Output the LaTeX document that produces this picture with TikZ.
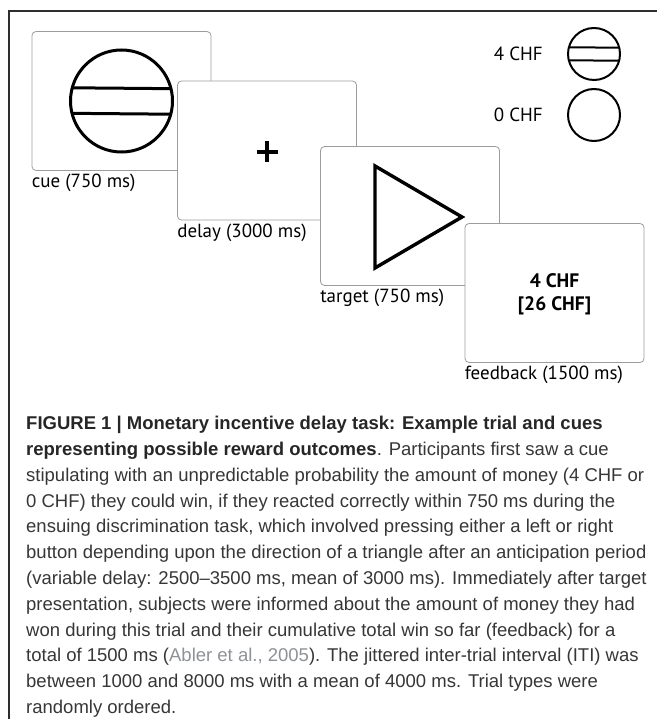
\documentclass[tikz,border=0pt]{standalone}
\usepackage{fontspec}
\setmainfont{Liberation Sans}
\newfontfamily\myriad{PT Sans}
\usetikzlibrary{positioning}
\definecolor{frameInk}{HTML}{2E2E2E}
\definecolor{panelEdge}{HTML}{9C9C9C}
\definecolor{capInk}{HTML}{363636}
\definecolor{citeInk}{HTML}{8E9196}

\begin{document}
\begin{tikzpicture}[x=1pt,y=-1pt,
      panel/.style={draw=panelEdge,fill=white,rounded corners=4pt,line width=0.8pt,
                    minimum width=179pt,minimum height=139pt,inner sep=0pt},
      lbl/.style={font=\myriad\fontsize{19}{22}\selectfont,inner sep=0pt},
      ring/.style={circle,draw=black,outer sep=0pt,inner sep=0pt}]
    \useasboundingbox (0,0) rectangle (657,719);
    \draw[frameInk,line width=1.4pt] (9,719) -- (9,11) -- (657,11);
    \node[panel] (cue)      at (121.5,101)   {};
    \node[panel] (delay)    at (267,150.5)   {};
    \node[panel] (target)   at (410,216)     {};
    \node[panel] (feedback) at (554.5,293)   {};
    \node[lbl,below right=3pt and 0pt of cue.south west]      {cue (750 ms)};
    \node[lbl,below right=3pt and 0pt of delay.south west]    {delay (3000 ms)};
    \node[lbl,below right=3pt and 0pt of target.south west]   {target (750 ms)};
    \node[lbl,below right=3pt and 0pt of feedback.south west] {feedback (1500 ms)};
    \node[ring,line width=3pt,minimum size=102pt] (cueSign) at (cue.center) {};
    \draw[line width=3pt] (cueSign.165.2) -- (cueSign.14.8) (cueSign.194.8) -- (cueSign.345.2);
    \node[minimum size=21pt,inner sep=0pt,outer sep=0pt] (cross) at (267,152) {};
    \draw[line width=3.3pt] (cross.west) -- (cross.east) (cross.north) -- (cross.south);
    \draw[line width=3.4pt,miter limit=20] (375,166) -- (375,268) -- (462,217) -- cycle;
    \node[lbl,font=\myriad\bfseries\fontsize{19.5}{23}\selectfont,align=center] (win) at (554.5,294) {4 CHF\\{[26 CHF]}};
    \node[ring,line width=2pt,minimum size=52pt] (fourSign) at (594,54)  {};
    \draw[line width=2pt] (fourSign.165.5) -- (fourSign.14.5) (fourSign.194.5) -- (fourSign.345.5);
    \node[ring,line width=2pt,minimum size=52pt] (zeroSign) at (594,115) {};
    \node[lbl,left=25pt of fourSign] (four) {4 CHF};
    \node[lbl,left=25pt of zeroSign] (zero) {0 CHF};
    \node[anchor=north west,inner sep=0pt,align=left,text=capInk,
          font=\fontsize{18.5}{25.8}\selectfont] (caption) at (26,416)
      {\textbf{\color{black!85}FIGURE 1 | Monetary incentive delay task: Example trial and cues}\\
       \textbf{\color{black!85}representing possible reward outcomes}. Participants first saw a cue\\
       stipulating with an unpredictable probability the amount of money (4 CHF or\\
       0 CHF) they could win, if they reacted correctly within 750 ms during the\\
       ensuing discrimination task, which involved pressing either a left or right\\
       button depending upon the direction of a triangle after an anticipation period\\
       (variable delay: 2500–3500 ms, mean of 3000 ms). Immediately after target\\
       presentation, subjects were informed about the amount of money they had\\
       won during this trial and their cumulative total win so far (feedback) for a\\
       total of 1500 ms ({\color{citeInk}Abler et al., 2005}). The jittered inter-trial interval (ITI) was\\
       between 1000 and 8000 ms with a mean of 4000 ms. Trial types were\\
       randomly ordered.};
  \end{tikzpicture}
\end{document}
